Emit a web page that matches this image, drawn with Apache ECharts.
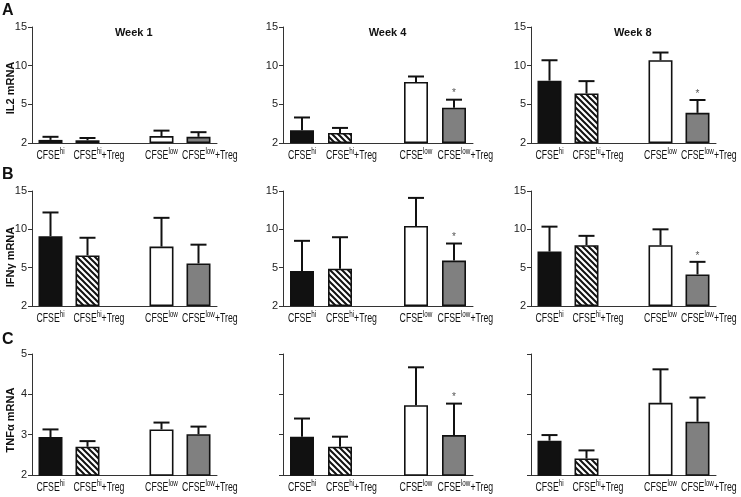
<!DOCTYPE html>
<html>
<head>
<meta charset="utf-8">
<script src="https://cdn.jsdelivr.net/npm/echarts@6/dist/echarts.min.js"></script>
<style>html,body{margin:0;padding:0;background:#fff;}#c{width:741px;height:497px;}</style>
</head>
<body>
<div id="c"></div>
<script>
// ---------- data ----------
const categories = ['CFSEhi', 'CFSEhi+Treg', '', 'CFSElow', 'CFSElow+Treg'];
const weeks = ['Week 1', 'Week 4', 'Week 8'];
const rowNames = ['IL2 mRNA', 'IFN\u03b3 mRNA', 'TNF\u03b1 mRNA'];
const panelLetters = ['A', 'B', 'C'];
const bigTicks = [2, 5, 10, 15];      // labels for IL2 / IFNγ axes (equally spaced)
const tnfTicks = [2, 3, 4, 5];

const il2_w1 = [0.4, 0.35, null, 0.9, 0.8];
const il2_w1_err = [0.4, 0.3, null, 0.7, 0.6];
const il2_w4 = [1.64, 1.3, null, 7.9, 4.57];
const il2_w4_err = [1.66, 0.65, null, 0.7, 1.03];
const il2_w8 = [8.06, 6.4, null, 10.7, 3.9];
const il2_w8_err = [2.64, 1.6, null, 1.0, 1.66];

const ifn_w1 = [9.1, 6.6, null, 7.75, 5.55];
const ifn_w1_err = [3.1, 2.3, null, 3.75, 2.45];
const ifn_w4 = [4.55, 4.86, null, 10.45, 5.93];
const ifn_w4_err = [3.95, 4.11, null, 3.65, 2.22];
const ifn_w8 = [7.1, 7.93, null, 7.93, 4.12];
const ifn_w8_err = [3.25, 1.22, null, 2.07, 1.64];

const tnf_w1 = [2.94, 2.70, null, 3.13, 3.01];
const tnf_w1_err = [0.19, 0.14, null, 0.17, 0.19];
const tnf_w4 = [2.95, 2.70, null, 3.73, 2.99];
const tnf_w4_err = [0.45, 0.25, null, 0.94, 0.78];
const tnf_w8 = [2.85, 2.41, null, 3.79, 3.32];
const tnf_w8_err = [0.14, 0.20, null, 0.83, 0.60];

// significance stars (1 = star above error bar)
const il2_stars = [[0,0,0,0,0],[0,0,0,0,1],[0,0,0,0,1]];
const ifn_stars = [[0,0,0,0,0],[0,0,0,0,1],[0,0,0,0,1]];
const tnf_stars = [[0,0,0,0,0],[0,0,0,0,1],[0,0,0,0,0]];

const means = [[il2_w1, il2_w4, il2_w8], [ifn_w1, ifn_w4, ifn_w8], [tnf_w1, tnf_w4, tnf_w8]];
const errs = [[il2_w1_err, il2_w4_err, il2_w8_err], [ifn_w1_err, ifn_w4_err, ifn_w8_err], [tnf_w1_err, tnf_w4_err, tnf_w8_err]];
const stars = [il2_stars, ifn_stars, tnf_stars];

// ---------- styling ----------
const FONT = 'Liberation Sans, Arial, sans-serif';
const LBL_FONT = '"Liberation Sans", Arial, sans-serif';
const LBL_SIZE = 12.5, SUP_SIZE = 9, LBL_SCALE = 0.7;
const mctx = document.createElement('canvas').getContext('2d');
mctx.font = LBL_SIZE + 'px ' + LBL_FONT;
const TREG_W = mctx.measureText('+Treg').width;

const rowTop = [27, 191, 354];
const rowH = [116, 115, 121];
const colLeft = [32, 283, 531];
const colW = [185, 190, 185];

// hatch pattern
const pat = document.createElement('canvas');
pat.width = 6; pat.height = 6;
(function(){
  const g = pat.getContext('2d');
  g.fillStyle = '#fff'; g.fillRect(0,0,6,6);
  g.strokeStyle = '#111'; g.lineWidth = 2;
  g.beginPath();
  g.moveTo(-1,-1); g.lineTo(7,7);
  g.moveTo(-4,2); g.lineTo(2,8);
  g.moveTo(2,-4); g.lineTo(8,2);
  g.stroke();
})();
const fills = ['#111111', {image: pat, repeat: 'repeat'}, '#fff', '#ffffff', '#808080'];

function catLabel(v) {
  if (!v) return '';
  const base = v.startsWith('CFSEhi') ? 'hi' : 'low';
  const treg = v.endsWith('+Treg');
  return (treg ? '{sp| }' : '') + '{m|CFSE}{s|' + base + '}' + (treg ? '{m|+Treg}' : '');
}
const labelRich = {
  m: {fontFamily: LBL_FONT, fontSize: LBL_SIZE, fill: '#111', verticalAlign: 'bottom', lineHeight: 15},
  s: {fontFamily: LBL_FONT, fontSize: SUP_SIZE, fill: '#111', verticalAlign: 'top', lineHeight: 15},
  sp: {width: TREG_W, fontSize: LBL_SIZE, lineHeight: 15}
};

const grids = [], xAxes = [], yAxes = [], series = [], graphics = [];
let k = 0;
for (let r = 0; r < 3; r++) {
  for (let c = 0; c < 3; c++) {
    grids.push({left: colLeft[c], top: rowTop[r], width: colW[c], height: rowH[r], containLabel: false});
    xAxes.push({
      type: 'category', gridIndex: k, data: categories,
      axisLine: {lineStyle: {color: '#333', width: 1}},
      axisTick: {alignWithLabel: true, length: 4, lineStyle: {color: '#333'}},
      axisLabel: {show: false}
    });
    const big = r < 2;
    const ticks = big ? bigTicks : tnfTicks;
    const yMin = big ? 0 : ticks[0];
    yAxes.push({
      type: 'value', gridIndex: k,
      min: yMin, max: ticks[ticks.length - 1], interval: big ? 5 : 1,
      axisLine: {show: true, lineStyle: {color: '#333', width: 1}},
      axisTick: {show: true, length: 4, lineStyle: {color: '#333'}},
      splitLine: {show: false},
      axisLabel: {
        show: big || c === 0, margin: 5, color: '#222', fontFamily: FONT, fontSize: 11,
        formatter: big ? (v) => String(ticks[Math.round(v / 5)]) : (v) => String(v)
      }
    });
    const m = means[r][c], e = errs[r][c], st = stars[r][c];
    series.push({
      type: 'bar', xAxisIndex: k, yAxisIndex: k, barWidth: 24, clip: true,
      itemStyle: {borderColor: '#111', borderWidth: 1.6},
      data: m.map((v, i) => v == null ? '-' : {value: v, itemStyle: {color: fills[i]}}),
      z: 2
    });
    const ed = [];
    m.forEach((v, i) => { if (v != null) ed.push([i, v, v + e[i], st[i]]); });
    series.push({
      type: 'custom', xAxisIndex: k, yAxisIndex: k, z: 3, silent: true,
      data: ed,
      renderItem: function (params, api) {
        const x = api.value(0), mv = api.value(1), tv = api.value(2), s = api.value(3);
        const p0 = api.coord([x, mv]);
        const p1 = api.coord([x, tv]);
        const ch = [
          {type: 'line', shape: {x1: p0[0], y1: p0[1], x2: p1[0], y2: p1[1]}, style: {stroke: '#111', lineWidth: 2}},
          {type: 'line', shape: {x1: p1[0] - 8, y1: p1[1], x2: p1[0] + 8, y2: p1[1]}, style: {stroke: '#111', lineWidth: 2}}
        ];
        if (s) ch.push({type: 'text', x: p1[0], y: p1[1] - 6, style: {text: '*', fill: '#555', font: '10px ' + FONT, textAlign: 'center', textVerticalAlign: 'middle'}});
        return {type: 'group', children: ch};
      }
    });
    // category labels (condensed look via horizontal scaling)
    const ld = [];
    categories.forEach((cat, i) => { if (cat) ld.push([i, yMin]); });
    series.push({
      type: 'custom', xAxisIndex: k, yAxisIndex: k, z: 4, silent: true, clip: false,
      data: ld,
      renderItem: function (params, api) {
        const i = api.value(0);
        const p = api.coord([i, api.value(1)]);
        return {type: 'text', x: p[0], y: p[1] + 4, scaleX: LBL_SCALE,
          style: {text: catLabel(categories[i]), rich: labelRich, fill: '#111',
            font: LBL_SIZE + 'px ' + LBL_FONT, textAlign: 'center', textVerticalAlign: 'top'}};
      }
    });
    if (r === 0) {
      graphics.push({type: 'text', x: colLeft[c] + colW[c] * 0.55, y: 33,
        style: {text: weeks[c], font: 'bold 11px ' + FONT, fill: '#111', textAlign: 'center', textVerticalAlign: 'middle'}});
    }
    k++;
  }
}
const nameCenters = [88, 257, 420];
const letterTops = [3, 167, 332];
for (let r = 0; r < 3; r++) {
  graphics.push({type: 'text', x: 11, y: nameCenters[r], rotation: Math.PI / 2,
    style: {text: rowNames[r], font: 'bold 11px ' + FONT, fill: '#111', textAlign: 'center', textVerticalAlign: 'middle'}});
  graphics.push({type: 'text', x: 2, y: letterTops[r],
    style: {text: panelLetters[r], font: 'bold 16px ' + FONT, fill: '#111', textAlign: 'left', textVerticalAlign: 'top'}});
}

const chart = echarts.init(document.getElementById('c'), null, {renderer: 'canvas'});
chart.setOption({
  animation: false,
  backgroundColor: '#fff',
  grid: grids, xAxis: xAxes, yAxis: yAxes, series: series, graphic: graphics
});
</script>
</body>
</html>
